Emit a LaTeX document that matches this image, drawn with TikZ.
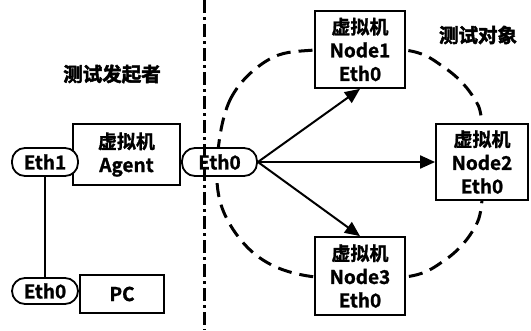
\documentclass[tikz,border=0pt]{standalone}
\usepackage{fontspec}
\setmainfont{Noto Sans CJK SC}[BoldFont={Noto Sans CJK SC Bold},BoldFeatures={FakeBold=1.2}]
\newfontfamily\heavyfont{Noto Sans CJK SC Bold}[FakeBold=2.5]
\usetikzlibrary{arrows.meta}
\begin{document}
\begin{tikzpicture}[x=1pt,y=-1pt,
  box/.style={draw,line width=1.8pt,fill=white,inner sep=0pt,align=center,
    font=\bfseries\fontsize{19}{23.5}\selectfont},
  pill/.style={draw,line width=1.8pt,fill=white,rounded corners=13pt,inner sep=0pt,
    font=\bfseries\fontsize{19}{22}\selectfont},
  lbl/.style={font=\heavyfont\fontsize{19.5}{22}\selectfont,inner sep=0pt},
  arr/.style={line width=2pt,-{Triangle[length=15pt,width=13pt]}},
  ring/.style={line width=3pt,dash pattern=on 14pt off 8pt},
  divider/.style={line width=3pt,dash pattern=on 13pt off 4pt on 3pt off 4pt}]
\useasboundingbox (0,0) rectangle (531,330);
% dashed closed curve
\draw[ring] plot[smooth cycle,tension=0.6] coordinates {
  (217,165) (230,100) (268,60) (315,50) (405,50) (445,68) (472,95) (482,124)
  (482,200) (472,232) (445,260) (405,277) (315,277) (260,258) (225,215)};
% nodes
\node[box,minimum width=107pt,minimum height=61pt] (agent) at (126.5,154.5) {虚拟机\\Agent};
\node[box,minimum width=84pt,minimum height=38pt] (pc) at (122,294) {PC};
\node[pill,minimum width=66pt,minimum height=28pt] (eth1) at (45,162) {Eth1};
\node[pill,minimum width=66pt,minimum height=26pt] (eth0pc) at (45,291) {Eth0};
\node[box,minimum width=90pt,minimum height=77pt] (n1) at (360,49.5) {虚拟机\\Node1\\Eth0};
\node[box,minimum width=92pt,minimum height=76pt] (n2) at (482,162) {虚拟机\\Node2\\Eth0};
\node[box,minimum width=90pt,minimum height=78pt] (n3) at (360,276) {虚拟机\\Node3\\Eth0};
\node[pill,minimum width=75pt,minimum height=28pt] (eth0a) at (219.5,162) {Eth0};
% labels
\node[lbl] (initiator) at (112,74) {测试发起者};
\node[lbl] (target) at (478,35) {测试对象};
% divider
\coordinate (dtop) at (204,0);
\coordinate (dbot) at (204,330);
\draw[divider] (dtop) -- (dbot);
% connectors
\draw[line width=1.8pt] (eth1.south) -- (eth0pc.north);
\draw[arr] (eth0a.east) -- (n1.south);
\draw[arr] (eth0a.east) -- (n2.west);
\draw[arr] (eth0a.east) -- (n3.north);
\end{tikzpicture}
\end{document}
